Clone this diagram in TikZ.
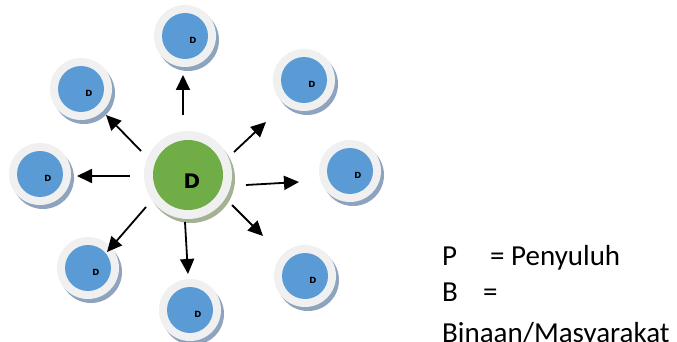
\documentclass[tikz,border=0pt]{standalone}
\usepackage{fontspec}
\setmainfont{Carlito}
\newfontfamily\labfont{DejaVu Sans}
\usetikzlibrary{arrows.meta,calc,backgrounds}
\definecolor{ring}{HTML}{F0F0F0}
\definecolor{pblue}{HTML}{5B9BD5}
\definecolor{pgreen}{HTML}{70AD47}
\definecolor{shblue}{HTML}{8EA4BE}
\definecolor{shgreen}{HTML}{A3B294}
\begin{document}
\begin{tikzpicture}[x=1pt,y=-1pt,
  bnode/.style={circle, minimum size=62pt, inner sep=0pt, outer sep=0pt, fill=ring,
    path picture={\fill[pblue] (path picture bounding box.center) circle (23pt);},
    label={[blab]center:D}},
  blab/.style={font=\labfont\bfseries\fontsize{8.5}{8.5}\selectfont, inner sep=0pt, xshift=8pt, yshift=-4pt},
  cnode/.style={circle, minimum size=88pt, inner sep=0pt, outer sep=0pt, fill=ring,
    path picture={\fill[pgreen] (path picture bounding box.center) circle (35pt);},
    label={[clab]center:D}},
  clab/.style={font=\labfont\bfseries\fontsize{20}{20}\selectfont, inner sep=0pt, xshift=4pt, yshift=-6pt},
  arr/.style={line width=1.8pt, -{Triangle[length=15pt,width=14pt]}},
  legend/.style={anchor=base west, inner sep=0pt, font=\fontsize{29}{35}\selectfont}]
\useasboundingbox (0,0) rectangle (677,342);
\clip (0,0) rectangle (677,342);

\node[cnode] (c) at (188,175) {};
\node[bnode] (t)  at (185,36) {};
\node[bnode] (tl) at (81,89) {};
\node[bnode] (l)  at (40,174) {};
\node[bnode] (bl) at (88,268) {};
\node[bnode] (b)  at (190,310) {};
\node[bnode] (br) at (305,276) {};
\node[bnode] (r)  at (350,171) {};
\node[bnode] (tr) at (304,80) {};

\begin{scope}[on background layer]
  \fill[white] (0,0) rectangle (677,342);
  \foreach \n in {t,tl,l,bl,b,br,r,tr}
    \fill[shblue] ([shift={(3pt,-4pt)}]\n.center) circle (31pt);
  \fill[shgreen] ([shift={(3pt,-4pt)}]c.center) circle (44pt);
\end{scope}

\draw[arr] ($(c)+(-5,-60)$) -- ($(t)+(-2,39)$);
\draw[arr] ($(c)+(-47,-24)$) -- ($(tl)+(25,26)$);
\draw[arr] ($(c)+(-58,1)$) -- ($(l)+(37,2)$);
\draw[arr] ($(c)+(-42,32)$) -- ($(bl)+(19,-16)$);
\draw[arr] ($(c)+(-3,47)$) -- ($(b)+(-2,-36)$);
\draw[arr] ($(c)+(44,30)$) -- ($(br)+(-42,-40)$);
\draw[arr] ($(c)+(58,10)$) -- ($(r)+(-51,11)$);
\draw[arr] ($(c)+(46,-23)$) -- ($(tr)+(-38,42)$);

\node[legend] (lp) at (442,265) {P};
\node[legend] (lpe) at (490,265) {= Penyuluh};
\node[legend] (lb) at (442,301) {B};
\node[legend] (lbe) at (483,301) {=};
\node[legend] (lbm) at (442,342.7) {Binaan/Masyarakat};
\end{tikzpicture}
\end{document}
